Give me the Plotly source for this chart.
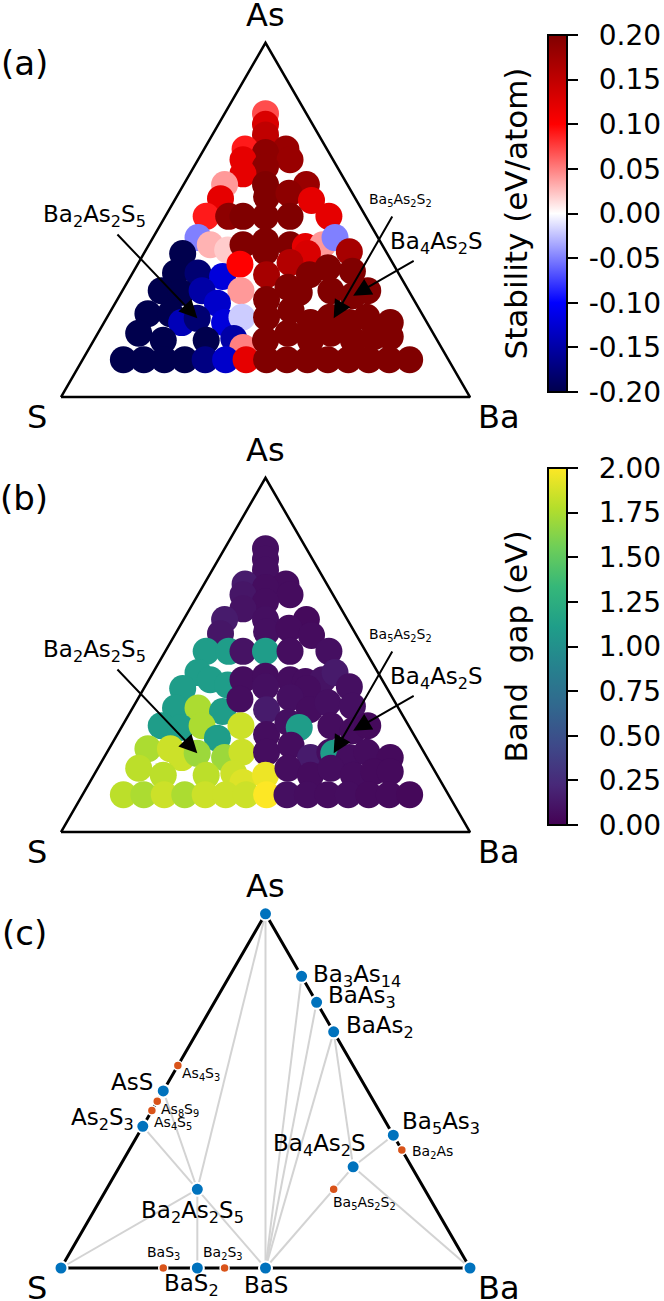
import re
import numpy as np
import plotly.graph_objects as go

# ---- screened Ba-As-S structures: atomic fractions (As, Ba; S = rest) ----
pt_as = [0.80, 0.77, 0.74, 0.70, 0.70, 0.69, 0.67, 0.67, 0.65, 0.63,
         0.60, 0.60, 0.60, 0.56, 0.565, 0.575, 0.555, 0.51, 0.51, 0.51,
         0.51, 0.51, 0.51, 0.45, 0.43, 0.415, 0.43, 0.44, 0.43, 0.425,
         0.43, 0.45, 0.41, 0.405, 0.41, 0.405, 0.35, 0.35, 0.34, 0.375,
         0.345, 0.38, 0.345, 0.365, 0.355, 0.30, 0.295, 0.30, 0.30, 0.275,
         0.31, 0.295, 0.30, 0.286, 0.30, 0.265, 0.235, 0.235, 0.21, 0.222,
         0.21, 0.225, 0.225, 0.245, 0.21, 0.225, 0.222, 0.21, 0.225, 0.21,
         0.18, 0.16, 0.16, 0.165, 0.14, 0.16, 0.18, 0.16, 0.18, 0.16,
         0.17, 0.17,
         0.105, 0.105, 0.105, 0.105, 0.105, 0.105, 0.105, 0.105, 0.105, 0.105,
         0.105, 0.105, 0.105, 0.105, 0.105]
pt_ba = [0.10, 0.115, 0.13, 0.10, 0.20, 0.155, 0.11, 0.225, 0.175, 0.13,
         0.10, 0.20, 0.30, 0.11, 0.22, 0.27, 0.335, 0.10, 0.155, 0.19,
         0.245, 0.305, 0.40, 0.11, 0.15, 0.20, 0.23, 0.28, 0.345, 0.385,
         0.425, 0.445, 0.50, 0.095, 0.295, 0.40, 0.105, 0.16, 0.225, 0.25,
         0.33, 0.37, 0.435, 0.47, 0.535, 0.095, 0.145, 0.195, 0.29, 0.365,
         0.40, 0.435, 0.51, 0.571, 0.60, 0.25, 0.095, 0.15, 0.19, 0.222,
         0.295, 0.33, 0.39, 0.44, 0.505, 0.545, 0.556, 0.60, 0.635, 0.70,
         0.10, 0.17, 0.275, 0.34, 0.375, 0.42, 0.465, 0.53, 0.57, 0.635,
         0.68, 0.72,
         0.10, 0.15, 0.20, 0.25, 0.30, 0.35, 0.40, 0.45, 0.50, 0.55,
         0.60, 0.65, 0.70, 0.75, 0.80]
stability = [0.07, 0.13, 0.15, 0.09, 0.18, 0.19, 0.12, 0.18, 0.19, 0.12,
             0.04, 0.20, 0.18, 0.12, 0.20, 0.19, 0.12, 0.09, 0.19, 0.20,
             0.20, 0.20, 0.12, -0.05, 0.03, 0.02, 0.20, 0.20, 0.20, 0.12,
             0.04, -0.05, 0.17, -0.20, 0.20, 0.13, -0.20, -0.18, -0.12, 0.10,
             0.17, 0.16, 0.20, 0.20, 0.20, -0.20, -0.20, -0.15, 0.04, 0.20,
             0.20, 0.20, 0.20, 0.20, 0.20, -0.13, -0.20, -0.20, -0.14, -0.18,
             -0.12, -0.02, 0.20, 0.20, 0.20, 0.20, 0.20, 0.20, 0.20, 0.20,
             -0.20, -0.20, -0.20, -0.15, 0.05, 0.20, 0.20, 0.20, 0.20, 0.20,
             0.20, 0.20,
             -0.20, -0.20, -0.20, -0.20, -0.17, -0.13, 0.12, 0.20, 0.20, 0.20,
             0.20, 0.20, 0.20, 0.20, 0.20]
band_gap = [0.08, 0.08, 0.08, 0.15, 0.06, 0.07, 0.12, 0.06, 0.07, 0.10,
            0.15, 0.08, 0.05, 0.12, 0.08, 0.06, 0.06, 1.10, 1.10, 0.10,
            1.10, 0.07, 0.08, 1.10, 1.10, 1.10, 0.07, 0.07, 0.07, 0.07,
            0.10, 0.14, 0.08, 1.10, 0.08, 0.07, 1.10, 1.75, 1.10, 0.07,
            0.15, 0.08, 0.07, 0.08, 0.08, 1.10, 1.10, 1.75, 1.85, 0.07,
            0.08, 1.10, 0.07, 0.06, 0.05, 1.10, 1.75, 1.85, 1.85, 1.70,
            1.70, 1.85, 0.07, 0.07, 0.15, 0.07, 1.10, 0.07, 0.06, 0.05,
            1.80, 1.80, 1.80, 1.85, 1.90, 1.95, 0.07, 0.06, 0.07, 0.06,
            0.05, 0.05,
            1.80, 1.75, 1.85, 1.75, 1.85, 1.85, 1.85, 2.00, 0.08, 0.07,
            0.06, 0.07, 0.05, 0.05, 0.04]

stab_ticks = [-0.20, -0.15, -0.10, -0.05, 0.00, 0.05, 0.10, 0.15, 0.20]
gap_ticks = [0.00, 0.25, 0.50, 0.75, 1.00, 1.25, 1.50, 1.75, 2.00]

# ---- convex hull (c): formula -> atom counts (Ba, As, S) ----
stable_names = ["As", "S", "Ba", "Ba3As14", "BaAs3", "BaAs2", "Ba5As3", "AsS",
                "As2S3", "Ba2As2S5", "Ba4As2S", "BaS2", "BaS"]
stable_counts = [(0, 1, 0), (0, 0, 1), (1, 0, 0), (3, 14, 0), (1, 3, 0), (1, 2, 0),
                 (5, 3, 0), (0, 1, 1), (0, 2, 3), (2, 2, 5), (4, 2, 1), (1, 0, 2),
                 (1, 0, 1)]
unstable_names = ["As4S3", "As8S9", "As4S5", "Ba2As", "Ba5As2S2", "BaS3", "Ba2S3"]
unstable_counts = [(0, 4, 3), (0, 8, 9), (0, 4, 5), (2, 1, 0), (5, 2, 2), (1, 0, 3),
                   (2, 0, 3)]
tie_lines = [("S", "Ba2As2S5"), ("As2S3", "Ba2As2S5"), ("AsS", "Ba2As2S5"),
             ("As", "Ba2As2S5"), ("BaS2", "Ba2As2S5"), ("BaS", "Ba2As2S5"),
             ("As", "BaS"), ("Ba3As14", "BaS"), ("BaAs3", "BaS"), ("BaAs2", "BaS"),
             ("BaAs2", "Ba4As2S"), ("Ba5As3", "Ba4As2S"), ("Ba4As2S", "Ba"),
             ("Ba4As2S", "BaS")]

# ---- layout constants ----
W, H = 664, 1301
PX = 409.0                      # pixels per unit triangle side
X0 = 61                         # pixel of S corner
BASE_PX = [397, 832, 1268]      # pixel rows of triangle bases
TOP_PX = BASE_PX[0]
bases = [-(b - TOP_PX) / PX for b in BASE_PX]
SQ = np.sqrt(3) / 2
FONT = "DejaVu Sans"
BLUE, ORANGE = "#0072BD", "#D95319"

seismic = [[0, "rgb(0,0,77)"], [0.25, "rgb(0,0,255)"], [0.5, "rgb(255,255,255)"],
           [0.75, "rgb(255,0,0)"], [1, "rgb(128,0,0)"]]


def xy(ba, as_, base):
    ba = np.asarray(ba, float)
    as_ = np.asarray(as_, float)
    return ba + as_ / 2, base + as_ * SQ


def frac(c):
    t = float(sum(c))
    return c[0] / t, c[1] / t


def sub(name):
    return re.sub(r"(\d+)", r"<sub>\1</sub>", name)


fig = go.Figure()
ann = []


def text(x, y, s, size, xs=0, ys=0, xa="center"):
    ann.append(dict(x=x, y=y, xref="x", yref="y", text=s, showarrow=False,
                    xshift=xs, yshift=ys, xanchor=xa, yanchor="middle",
                    font=dict(family=FONT, size=size, color="black")))


def triangle(base, width):
    tx, ty = xy([0, 1, 0, 0], [0, 0, 1, 0], base)
    fig.add_trace(go.Scatter(x=tx, y=ty, mode="lines", hoverinfo="skip",
                             line=dict(color="black", width=width)))
    text(0.5, base + SQ, "As", 32, ys=28)
    text(0, base, "S", 32, xs=-24, ys=-20)
    text(1, base, "Ba", 32, xs=29, ys=-20)


def colorbar(center_px, vals):
    # positive labels get an invisible minus so the digits line up as in the original
    pad = "\u2009"
    lab = [pad + ("-" if v < 0 else "<span style='color:rgba(0,0,0,0)'>-</span>")
           + "%.2f" % abs(v) for v in vals]
    return dict(x=548 / W, xanchor="left", xpad=0, ypad=0, thickness=19,
                len=357, lenmode="pixels", y=1 - center_px / H, yanchor="middle",
                outlinewidth=2, outlinecolor="black", ticks="outside", ticklen=10,
                tickwidth=2, tickcolor="black", tickvals=vals, ticktext=lab,
                tickfont=dict(family=FONT, size=28, color="black"))


# ---- panels (a) and (b) ----
panels = [
    (bases[0], stability, seismic, -0.2, 0.2, stab_ticks, 213.5,
     "Stability (eV/atom)", "(a)"),
    (bases[1], band_gap, "Viridis", 0, 2, gap_ticks, 646.5,
     "Band\u00a0 gap (eV)", "(b)"),
]
arrow_tails = {"Ba2As2S5": (0.1345, 0.401), "Ba5As2S2": (0.812, 0.445),
               "Ba4As2S": (0.866, 0.335)}
arrow_text = {"Ba2As2S5": (0.083, 0.4425, 23), "Ba5As2S2": (0.829, 0.482, 14),
              "Ba4As2S": (0.919, 0.3765, 23)}
allc = dict(zip(stable_names + unstable_names, stable_counts + unstable_counts))

for base, vals, cs, lo, hi, ticks, cb_c, cb_t, tag in panels:
    triangle(base, 2.5)
    px_, py_ = xy(pt_ba, pt_as, base)
    fig.add_trace(go.Scatter(
        x=px_, y=py_, mode="markers", hoverinfo="skip",
        marker=dict(size=27, color=vals, colorscale=cs, cmin=lo, cmax=hi,
                    line=dict(width=0), showscale=True,
                    colorbar=colorbar(cb_c, ticks))))
    ann.append(dict(x=515 / W, y=1 - cb_c / H, xref="paper", yref="paper",
                    xanchor="center", yanchor="middle", text=cb_t,
                    showarrow=False, textangle=-90,
                    font=dict(family=FONT, size=31, color="black")))
    text(-0.09, base + 0.817, tag, 34)
    for name in ["Ba2As2S5", "Ba5As2S2", "Ba4As2S"]:
        fb, fa = frac(allc[name])
        tipx, tipy = xy(fb, fa, base)
        tx, ty = arrow_tails[name]
        ann.append(dict(x=float(tipx), y=float(tipy), ax=tx, ay=base + ty,
                        xref="x", yref="y", axref="x", ayref="y", text="",
                        showarrow=True, arrowhead=2, arrowsize=1.8, arrowwidth=2,
                        arrowcolor="black", standoff=0))
        lx, ly, ls = arrow_text[name]
        text(lx, base + ly, sub(name), ls)

# ---- panel (c): convex hull ----
base = bases[2]
pos = {n: xy(*frac(c), base) for n, c in allc.items()}
for a, b in tie_lines:
    fig.add_trace(go.Scatter(x=[pos[a][0], pos[b][0]], y=[pos[a][1], pos[b][1]],
                             mode="lines", hoverinfo="skip",
                             line=dict(color="#d3d3d3", width=2)))
triangle(base, 3)
ux = [pos[n][0] for n in unstable_names]
uy = [pos[n][1] for n in unstable_names]
fig.add_trace(go.Scatter(x=ux, y=uy, mode="markers", hoverinfo="skip",
                         marker=dict(size=9, color=ORANGE, line=dict(width=1.5, color="white"))))
sx = [pos[n][0] for n in stable_names]
sy = [pos[n][1] for n in stable_names]
fig.add_trace(go.Scatter(x=sx, y=sy, mode="markers", hoverinfo="skip",
                         marker=dict(size=13, color=BLUE, line=dict(width=2, color="white"))))
text(-0.09, base + 0.82, "(c)", 34)

label_style = {
    "Ba3As14": (9, 0, "left", 23), "BaAs3": (9, 5, "left", 23),
    "BaAs2": (10, 5, "left", 23), "AsS": (-8, 9, "right", 23),
    "As2S3": (-7, 7, "right", 23), "Ba5As3": (7, 12, "left", 23),
    "Ba4As2S": (-34, 22, "center", 23), "Ba2As2S5": (-5, -23, "center", 23),
    "BaS2": (-6, -17, "center", 23), "BaS": (0, -17, "center", 23),
    "As4S3": (2, -8, "left", 14), "As8S9": (2, -9, "left", 14),
    "As4S5": (0, -12, "left", 14), "Ba2As": (8, -2, "left", 14),
    "Ba5As2S2": (31, -14, "center", 14), "BaS3": (0, 15, "center", 14),
    "Ba2S3": (-2, 15, "center", 14),
}
for n, (xs, ys, xa, fs) in label_style.items():
    text(float(pos[n][0]), float(pos[n][1]), sub(n), fs, xs, ys, xa)

fig.update_layout(
    width=W, height=H, margin=dict(l=0, r=0, t=0, b=0),
    paper_bgcolor="white", plot_bgcolor="white", showlegend=False,
    xaxis=dict(visible=False, range=[-X0 / PX, (W - X0) / PX], domain=[0, 1]),
    yaxis=dict(visible=False, range=[-(H - TOP_PX) / PX, TOP_PX / PX], domain=[0, 1]),
    annotations=ann,
)
fig.write_html("out.html", config={"displayModeBar": False},
               post_script="document.body.style.margin='0';"
                           "document.body.style.overflow='hidden';")
